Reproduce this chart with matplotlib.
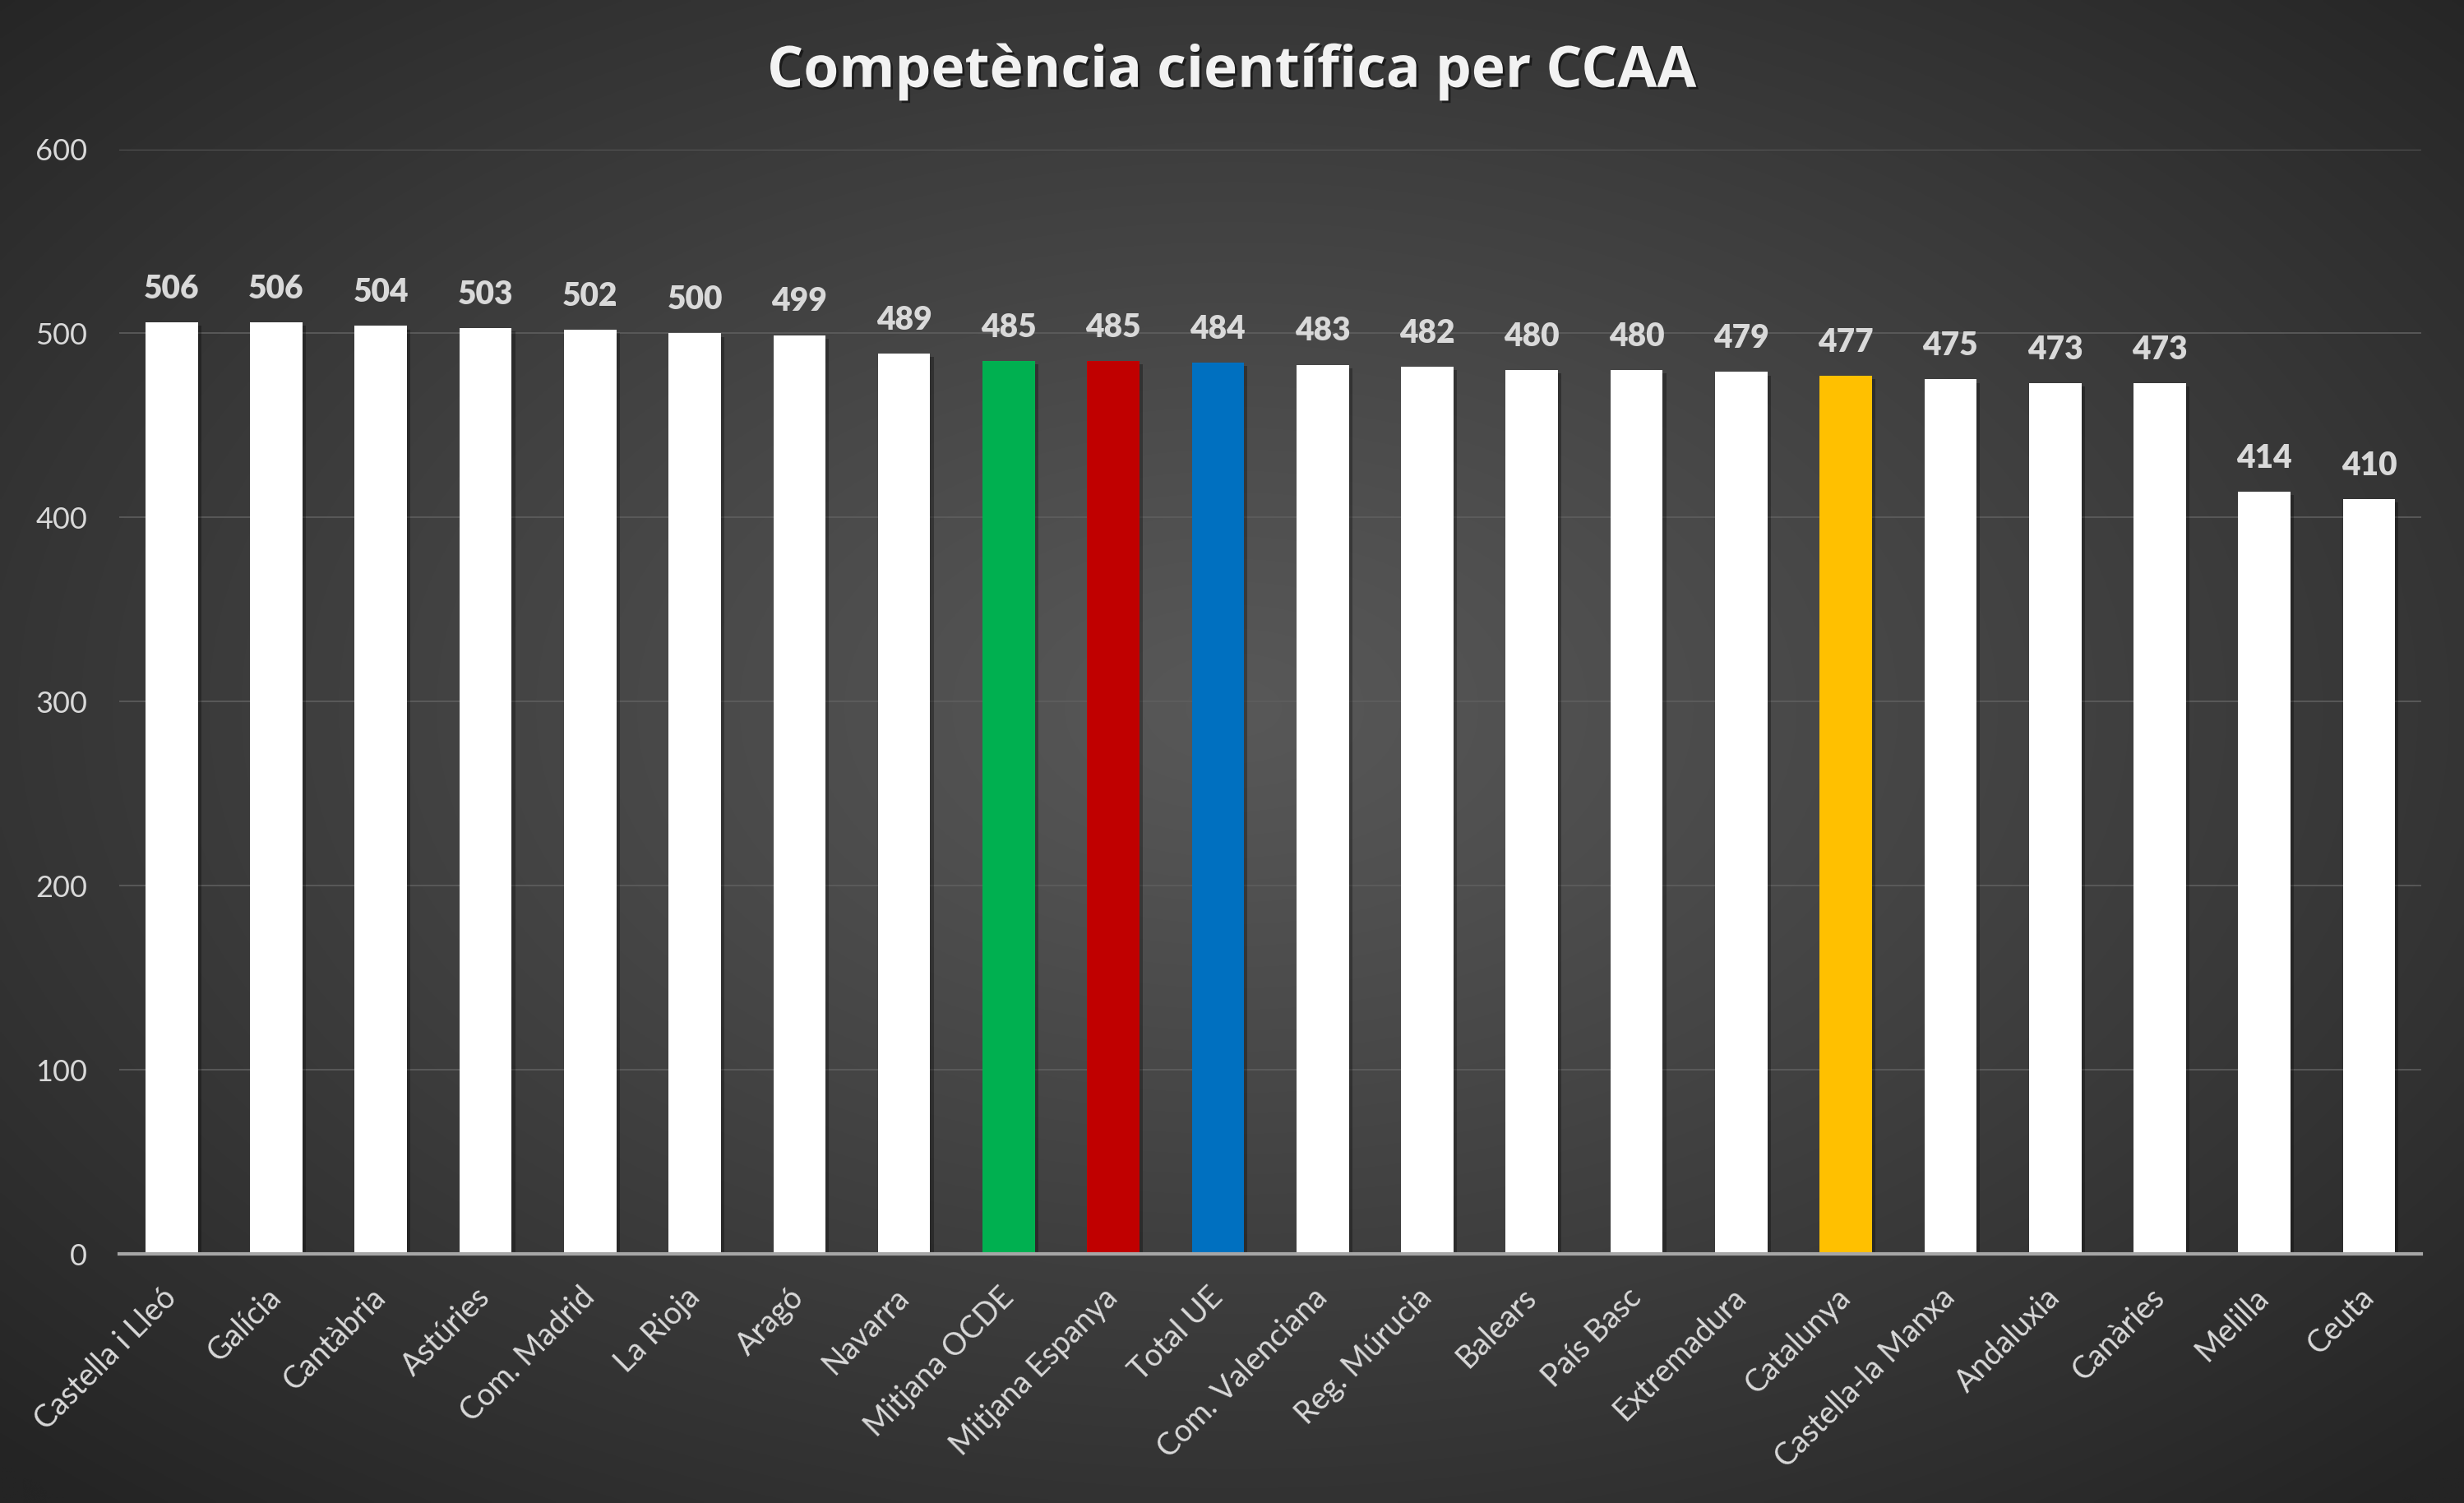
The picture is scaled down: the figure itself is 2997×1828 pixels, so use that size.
import numpy as np
import matplotlib.pyplot as plt
import matplotlib.patheffects as pe

# dades
categories = ["Castella i Lleó", "Galícia", "Cantàbria", "Astúries", "Com. Madrid",
              "La Rioja", "Aragó", "Navarra", "Mitjana OCDE", "Mitjana Espanya",
              "Total UE", "Com. Valenciana", "Reg. Múrucia", "Balears", "País Basc",
              "Extremadura", "Catalunya", "Castella-la Manxa", "Andaluxia", "Canàries",
              "Melilla", "Ceuta"]
values = [506, 506, 504, 503, 502, 500, 499, 489, 485, 485, 484, 483, 482, 480, 480,
          479, 477, 475, 473, 473, 414, 410]
highlight = {"Mitjana OCDE": "#00b050", "Mitjana Espanya": "#c00000",
             "Total UE": "#0070c0", "Catalunya": "#ffc000"}
yticks = [0, 100, 200, 300, 400, 500, 600]

title = "Competència científica per CCAA"
font = "Lato"
txt_color = "#d9d9d9"

fig = plt.figure(figsize=(29.97, 18.28), dpi=100)

# fons amb degradat radial
bg = fig.add_axes([0, 0, 1, 1], zorder=-10)
h, w = 400, 656
yy, xx = np.mgrid[0:h, 0:w]
cx, cy = w * 0.5, h * 0.47
r = np.sqrt(((xx - cx) / (w * 0.5)) ** 2 + ((yy - cy) / (h * 0.5)) ** 2) / np.sqrt(2)
r = np.clip(r, 0, 1)
g = (88 - 52 * r ** 1.1) / 255.0
img = np.dstack([g, g, g])
bg.imshow(img, aspect="auto", extent=[0, 1, 0, 1], interpolation="bilinear")
bg.set_axis_off()

ax = fig.add_axes([0.0484, 0.1657, 0.9343, 0.735])
ax.patch.set_alpha(0)

x = np.arange(len(categories))
colors = [highlight.get(c, "#ffffff") for c in categories]
bars = ax.bar(x, values, width=0.5, color=colors, zorder=3)
for b in bars:
    b.set_path_effects([pe.SimplePatchShadow(offset=(3, -3), shadow_rgbFace="black", alpha=0.3),
                        pe.Normal()])

for xi, v in zip(x, values):
    ax.annotate(str(v), (xi, v), xytext=(0, 16), textcoords="offset points",
                ha="center", va="bottom", fontsize=28, fontweight="heavy",
                family=font, color=txt_color, zorder=4)

ax.set_xlim(-0.5, len(categories) - 0.5)
ax.set_ylim(0, 600)
ax.set_yticks(yticks)
ax.set_yticklabels([str(t) for t in yticks], fontsize=26, family=font, color=txt_color)
ax.tick_params(axis="y", length=0, pad=28)
ax.yaxis.grid(True, color="#5e5e5e", linewidth=1.2, zorder=0)
ax.set_axisbelow(True)

ax.set_xticks(x)
ax.set_xticklabels(categories, rotation=45, ha="right", va="center",
                   rotation_mode="anchor", fontsize=27, family=font, color=txt_color)
ax.tick_params(axis="x", length=0, pad=34)

for s in ["top", "right", "left"]:
    ax.spines[s].set_visible(False)
ax.spines["bottom"].set_color("#a6a6a6")
ax.spines["bottom"].set_linewidth(3)
ax.spines["bottom"].set_zorder(5)

fig.text(0.5, 0.952, title, ha="center", va="center", fontsize=50,
         fontweight="bold", family="Open Sans", color="#f2f2f2",
         path_effects=[pe.withSimplePatchShadow(offset=(2, -2), shadow_rgbFace="black", alpha=0.5)])

fig.savefig("out.png", dpi=100)
